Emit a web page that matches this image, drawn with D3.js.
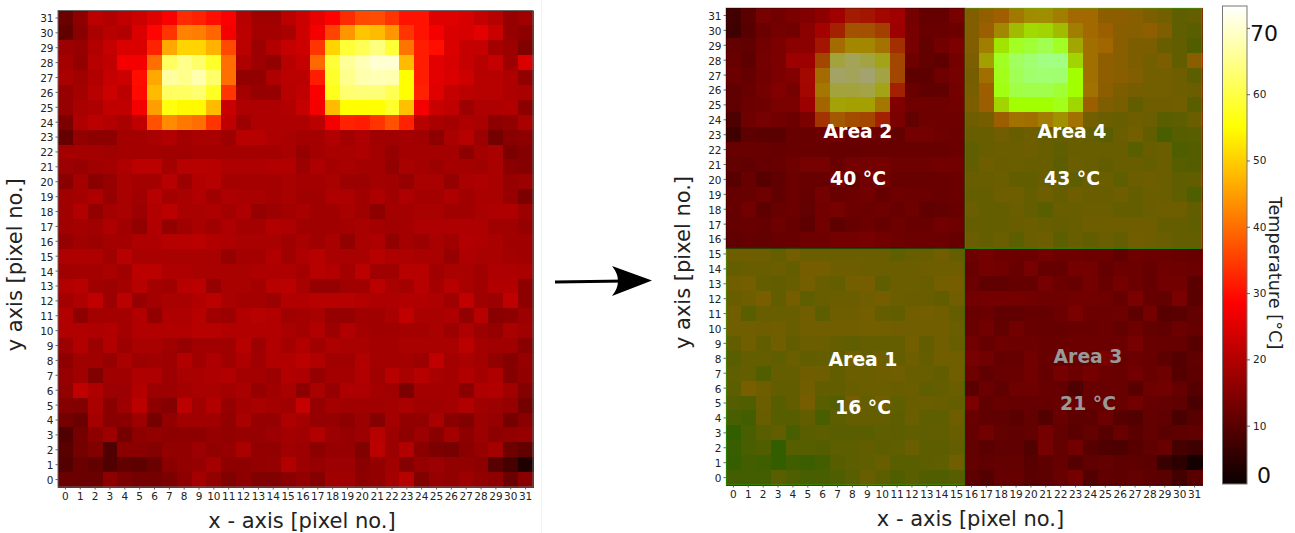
<!DOCTYPE html>
<meta charset="utf-8">
<style>
body {
  margin: 0;
  background: #fff;
  font-family: "DejaVu Sans", sans-serif;
}
svg { display: block; }
.axis text { font: 10.5px "DejaVu Sans", sans-serif; fill: #222; }
.axis path { display: none; }
.axis line { stroke: #444; stroke-width: 0.8px; }
.title { font: 21px "DejaVu Sans", sans-serif; fill: #222; text-anchor: middle; }
.frame { fill: none; stroke: #666; stroke-width: 1px; }
.note { font: bold 18.8px "DejaVu Sans", sans-serif; text-anchor: middle; }
</style>
<body>
<script src="https://cdn.jsdelivr.net/npm/d3@7"></script>
<script>

// temperature per sensor pixel, first row is y = 31, last row is y = 0
var temperature = [
  [12,16,21,20,21.6,23,25,28,33,32,30,28,20.5,18,18,21,23,26,28.5,33,36,36.5,34,30.5,30.5,25,25,24,22,20.5,17,18],
  [11,15.5,19,20.5,20,24.5,29,34,42,41.5,39,27.5,21,18.5,18.5,19,23,27.5,35.5,44,49,48,44,34,30.5,27.5,24.5,24,25.5,22.5,17,16],
  [17.5,17,20,22,24.5,24.5,32,46,50.5,50.5,47,36,21,17.5,20,22,23,34,50.5,59,61,64,59,40.5,31.5,30,24.5,22,22,18.5,17.5,14.5],
  [18.5,16.5,20.5,21.5,27.5,27.5,40,62,65,62.5,58,40,19.5,17.5,16.5,20.5,22,39.5,59,66,68,70,70,48,31.5,25.5,24,22,20.5,22,17.5,24.5],
  [19,18,20,22,23,30,46,66.5,65,67.5,62.5,40,16.5,16.5,19.5,21,21,31.5,58,65,67.5,68,67.5,55,31.5,25.5,24.5,23,20.5,20.5,19.5,16.5],
  [17,18.5,20.5,23,21,29.5,48,62,62,63,57.5,34,18.5,17,17,20.5,21.5,28,57,63,63.5,63.5,61,55,32,25,22,21,20.5,20.5,19.5,19],
  [17,19,19.5,21.5,21.5,27.5,45,56,54.5,54.5,48,22.5,19.5,19.5,19.5,20,22,27.5,48,55,55,55,58,48.5,27.5,22.5,21.5,17.5,19.5,19.5,20,16],
  [14,19.5,21,20,19,21.5,37,43,41,40,34,21.5,17.5,19.5,19.5,19.5,19.5,21,27.5,32,31.5,34,37,32,20.5,19,18.5,19.5,19,16,16.5,19],
  [11.5,16.5,16,16,18.5,18.5,19,20,18.5,19,19,17.5,20.5,20.5,19.5,19,18.5,18.5,20,18.5,19.5,18,18,18.5,18,16,19,20.5,17.5,13,15.5,16],
  [18.5,18.5,18.5,18,18.5,18.5,18.5,18,18,18.5,18.5,18.5,18.5,18.5,18.5,19,17,18.5,19,19,19.5,18.5,17,18.5,18.5,18.5,18.5,16,18.5,19,14,15],
  [17.5,17,18,18.5,19.5,21,21,18.5,20.5,20.5,20.5,19.5,19.5,19.5,20,20,17.5,19.5,18.5,19,18.5,18.5,16.5,19,18.5,17.5,18.5,18.5,18,19,15.5,15],
  [15.5,18.5,15.5,17,19,18.5,18.5,20.5,17.5,20,20.5,18.5,18.5,18.5,18.5,19,18.5,18.5,19,17.5,17.5,18.5,18,17,19,19,17,19,19.5,19,17,17.5],
  [18,18.5,19.5,17,19,18,20.5,18.5,19,20,18,19.5,19,19,18.5,19,18,18,19.5,19.5,18,19.5,18,19.5,18.5,18.5,19.5,18,19,19,17,14],
  [18,20,16.5,18.5,19,17.5,20,21,19,19,19.5,18.5,19.5,17,17.5,18.5,19,18,18,19,18,16,18.5,18.5,19,19,18,18,19,19.5,19.5,17.5],
  [18,18.5,18,19.5,18,16.5,20,16.5,18,19,18,19.5,18.5,18.5,20,19.5,18,18,18,18.5,19,18.5,18,18.5,19.5,19.5,19.5,19.5,19.5,18,18,17],
  [17,18,17.5,18.5,18.5,19.5,19.5,20.5,20.5,21,20,19.5,19,19,19,18,19,18,19,16.5,19,19.5,16.5,18.5,17.5,19,18,20,19.5,19,18,18],
  [19.5,19.5,19.5,18,20.5,19,19,19,19,19,19,17,18.5,18.5,20,18,19.5,20.5,19,19,19,20.5,19.5,19.5,19,19,17,19.5,19,19,18.5,18],
  [18,18.5,18.5,19,18,21,21,19.5,19.5,19,19,19,19,19.5,19.5,19.5,18.5,20.5,20,18.5,21,18,18,20.5,20.5,18,19,19,18,19.5,19.5,19],
  [20,20.5,18,17.5,18.5,20.5,18.5,18,20.5,21,17,19,19,18.5,20.5,21,19,17,17,18,18,21,19,18.5,20.5,18.5,20.5,19,18,20,20,16],
  [18.5,19.5,21.5,17.5,21,17,18.5,19,19,20,21,19,18.5,18.5,17.5,20,20,20.5,20.5,20.5,20,19.5,19.5,20,20,19.5,18,21.5,18,17.5,21.5,16],
  [20,16,18.5,18.5,18.5,20,16.5,19.5,19.5,20.5,18,17.5,20,20.5,20,18,18.5,19,17,17,18,18,19,21.5,19,19,19.5,16.5,20.5,15.5,16,17.5],
  [20,20,19.5,20,18.5,20,20,20,20,20.5,20.5,20,20,20,20,19,18.5,20,17.5,20,18.5,18,18,18.5,18.5,19,17.5,19.5,17.5,17,19,18],
  [17.5,20,17.5,20,17.5,19,19,18,17,18,18,18,20.5,17.5,20,18.5,20,18,19.5,19,19,18.5,18.5,19,19,19,19,21,18.5,18,18,15.5],
  [16,18,18,17,19,17.5,18,17.5,20,18,19.5,18,19.5,18,20,20,21,20,18,18,20,18.5,18.5,18.5,17.5,21.5,18.5,19,18.5,16.5,15,17],
  [17,18,14.5,18,18,19.5,19.5,17.5,19,19,19.5,20,18.5,18.5,17.5,20,19.5,17,18.5,18.5,20,18,20.5,19,20.5,19,18.5,20,18.5,19.5,15,16.5],
  [16.5,21.5,19.5,17.5,17.5,20,17.5,17.5,18.5,19,19,18.5,19,17,18,19,16,19,17,19.5,19.5,18.5,18,14,18.5,18.5,18.5,15.5,19.5,20,18,15],
  [15,14.5,19,15.5,17.5,21,16,15,21,18,20,17,18.5,19,18.5,18,22,17,18.5,18,18,18,18.5,19,18,18,18.5,20,18,17.5,17,13],
  [13,12,18.5,15.5,15.5,17.5,13,16.5,18,18,18,16.5,19,17,17,19.5,18.5,17,17,16,17.5,15,18.5,16.5,16.5,19,15.5,14.5,17.5,17,13,15.5],
  [9,13,16,17.5,13,16,16.5,16,16,16,17,16.5,17,17,17.5,18.5,18,20,17.5,17,17.5,20.5,17.5,16,17.5,15.5,18.5,16,17.5,16,16.5,17],
  [10,13,14.5,9,15.5,15.5,15,16.5,16.5,17.5,16.5,17,19,16.5,16.5,18,17.5,16,17,17,14.5,21,17.5,20,15.5,14,13.5,15.5,17,18.5,12.5,11],
  [9.5,12,11,9,11,10.5,12,15.5,16.5,17,18.5,16,16,16.5,17,20,17.5,17,17.5,17.5,15.5,16.5,18,15,17,17.5,16.5,16.5,16,10,8,3.5],
  [12,12,12,16,14,13,13,14,16,18.5,16.5,14.5,16,14.5,14.5,15.5,16.5,15,18,18,16,16.5,18.5,20.5,14.5,17,16.5,17.5,16.5,16,12,15.5]
];

var pixelIds = d3.range(32);
var areaNames = ["Area 1", "Area 2", "Area 3", "Area 4"];
var areaTemps = ["16 °C", "40 °C", "21 °C", "43 °C"];
var barTicks = [10, 20, 30, 40, 50, 60, 70];

var tMin = 1.2, tMax = 73.3;
var hotStops = [0, 0.38, 0.746, 1];
var hotColors = ["#0a0000", "#ff0000", "#ffff00", "#ffffff"];

var color = d3.scaleLinear()
  .domain(hotStops.map(function(s) { return tMin + s * (tMax - tMin); }))
  .range(hotColors);

var svg = d3.select("body").append("svg")
  .attr("width", 1295)
  .attr("height", 533);

var defs = svg.append("defs");

// the reference is a slightly soft upscaled image
defs.append("filter")
  .attr("id", "soft")
  .attr("color-interpolation-filters", "sRGB")
  .append("feGaussianBlur")
  .attr("stdDeviation", 0.6);

// faint edge of the first panel
svg.append("line")
  .attr("x1", 541.5).attr("x2", 541.5)
  .attr("y1", 0).attr("y2", 533)
  .attr("stroke", "#f2f2f2");

function heatmap(left, top, width, height) {
  var x = d3.scaleBand().domain(pixelIds).range([left, left + width]);
  var y = d3.scaleBand().domain(pixelIds.slice().reverse()).range([top, top + height]);

  var g = svg.append("g").attr("filter", "url(#soft)");

  temperature.forEach(function(row, r) {
    g.selectAll(null)
      .data(row)
      .enter().append("rect")
      .attr("x", function(d, i) { return x(i); })
      .attr("y", y(31 - r))
      .attr("width", x.bandwidth() + 0.5)
      .attr("height", y.bandwidth() + 0.5)
      .attr("shape-rendering", "crispEdges")
      .attr("fill", function(d) { return color(d); });
  });

  svg.append("g")
    .attr("class", "axis")
    .attr("transform", "translate(0," + (top + height) + ")")
    .call(d3.axisBottom(x).tickSize(2.5).tickPadding(3));

  svg.append("g")
    .attr("class", "axis")
    .attr("transform", "translate(" + left + ",0)")
    .call(d3.axisLeft(y).tickSize(2.5).tickPadding(2))
    .selectAll("text").attr("dy", ".42em");

  svg.append("text")
    .attr("class", "title")
    .attr("x", left + width / 2 + 6.5)
    .attr("y", top + height + 41)
    .text("x - axis [pixel no.]");

  svg.append("text")
    .attr("class", "title")
    .attr("transform", "translate(" + (left - 36) + "," + (top + height / 2 + 16) + ") rotate(-90)")
    .text("y axis [pixel no.]");

  return { x: x, y: y, g: g };
}

var before = heatmap(58, 10.5, 475, 476.5);
svg.append("rect").attr("class", "frame")
  .attr("x", 58).attr("y", 10.5).attr("width", 475).attr("height", 476.5);

var after = heatmap(726, 8, 476, 477);

// the four areas laid over the second map, each with its mean temperature
var areaCols = [[0, 15], [0, 15], [16, 31], [16, 31]];
var areaRows = [[15, 0], [31, 16], [15, 0], [31, 16]];
var areaFill = ["#00ff00", "#000000", "#000000", "#00ff00"];
var areaAlpha = [0.37, 0.36, 0.36, 0.37];
var areaText = ["#fff", "#fff", "#999", "#fff"];
var areaLabelX = [863, 858, 1088, 1072];
var areaLabelY = [366, 138, 363, 138];
var areaValueY = [414, 185, 410, 185];

var splitX = 965, splitY = 248.5;

areaNames.forEach(function(name, i) {
  var x0 = areaCols[i][0] == 0 ? after.x(0) : splitX;
  var x1 = areaCols[i][0] == 0 ? splitX : after.x(31) + after.x.bandwidth();
  var y0 = areaRows[i][0] == 31 ? after.y(31) : splitY;
  var y1 = areaRows[i][0] == 31 ? splitY : after.y(0) + after.y.bandwidth();

  svg.append("rect")
    .attr("x", x0).attr("y", y0)
    .attr("width", x1 - x0).attr("height", y1 - y0)
    .attr("fill", areaFill[i])
    .attr("fill-opacity", areaAlpha[i])
    .attr("stroke", areaFill[i])
    .attr("stroke-opacity", areaAlpha[i])
    .attr("stroke-width", 1);
});

areaNames.forEach(function(name, i) {
  svg.append("text").attr("class", "note")
    .attr("x", areaLabelX[i]).attr("y", areaLabelY[i])
    .attr("fill", areaText[i]).text(name);
  svg.append("text").attr("class", "note")
    .attr("x", areaLabelX[i]).attr("y", areaValueY[i])
    .attr("fill", areaText[i]).text(areaTemps[i]);
});

// arrow between the panels
svg.append("line")
  .attr("x1", 555).attr("y1", 282)
  .attr("x2", 625).attr("y2", 281)
  .attr("stroke", "#000").attr("stroke-width", 3);
svg.append("path")
  .attr("d", "M652,280.5 L612,266 Q624,281 612,296 Z")
  .attr("fill", "#000");

// colour bar
var grad = defs.append("linearGradient")
  .attr("id", "hot")
  .attr("x1", 0).attr("x2", 0).attr("y1", 1).attr("y2", 0);
hotStops.forEach(function(s, i) {
  grad.append("stop").attr("offset", s).attr("stop-color", hotColors[i]);
});

var barY = d3.scaleLinear().domain([tMin, tMax]).range([484, 6]);

svg.append("rect")
  .attr("x", 1222.5).attr("y", 6)
  .attr("width", 24.5).attr("height", 478)
  .attr("fill", "url(#hot)")
  .attr("stroke", "#777");

svg.append("g")
  .attr("class", "axis")
  .attr("transform", "translate(1247,0)")
  .call(d3.axisRight(barY)
    .tickValues(barTicks)
    .tickSize(3)
    .tickPadding(3)
    .tickFormat(function(d) { return d == 70 ? "" : d; }));

svg.append("text")
  .attr("x", 1264).attr("y", 41)
  .attr("text-anchor", "middle")
  .style("font", "22px 'DejaVu Sans', sans-serif")
  .style("fill", "#111")
  .text("70");

svg.append("text")
  .attr("x", 1264).attr("y", 483)
  .attr("text-anchor", "middle")
  .style("font", "22px 'DejaVu Sans', sans-serif")
  .style("fill", "#111")
  .text("0");

svg.append("text")
  .attr("transform", "translate(1269,273) rotate(90)")
  .attr("text-anchor", "middle")
  .style("font", "17.7px 'DejaVu Sans', sans-serif")
  .style("fill", "#222")
  .text("Temperature [°C]");

</script>
</body>
